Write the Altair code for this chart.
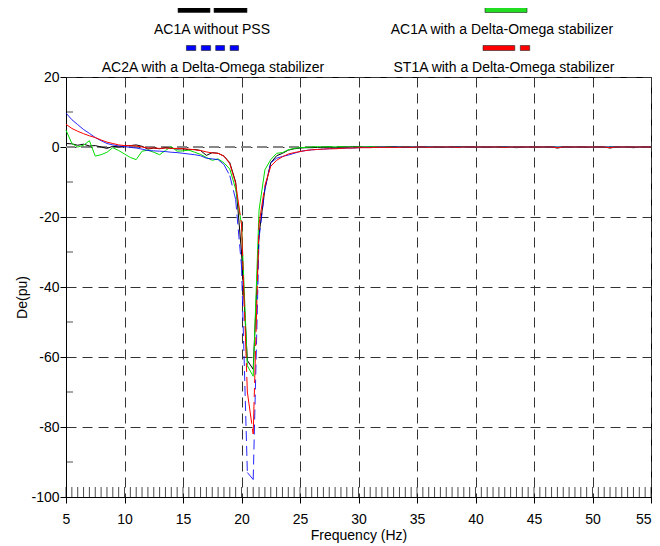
import altair as alt
import pandas as pd

# ---------------- data ----------------
freq = [5.0, 5.5, 6.0, 6.5, 7.0, 7.5, 8.0, 8.5, 9.0, 9.5,
        10.0, 10.5, 11.0, 11.5, 12.0, 12.5, 13.0, 13.5, 14.0, 14.5,
        15.0, 15.5, 16.0, 16.5, 17.0, 17.5, 18.0, 18.5, 19.0, 19.5,
        20.0, 20.5, 21.0, 21.5, 22.0, 22.5, 23.0, 23.5, 24.0, 24.5,
        25.0, 25.5, 26.0, 26.5, 27.0, 27.5, 28.0, 28.5, 29.0, 29.5,
        30.0, 30.5, 31.0, 31.5, 32.0, 32.5, 33.0, 33.5, 34.0, 34.5,
        35.0, 35.5, 36.0, 36.5, 37.0, 37.5, 38.0, 38.5, 39.0, 39.5,
        40.0, 40.5, 41.0, 41.5, 42.0, 42.5, 43.0, 43.5, 44.0, 44.5,
        45.0, 45.5, 46.0, 46.5, 47.0, 47.5, 48.0, 48.5, 49.0, 49.5,
        50.0, 50.5, 51.0, 51.5, 52.0, 52.5, 53.0, 53.5, 54.0, 54.5,
        55.0]

# AC1A without PSS (black)
ac1a_no_pss = [1.0, 0.9, 0.5, 0.8, 0.3, 0.4, 0.0, -0.4, 0.2, 0.0,
               0.3, 0.4, 0.6, 0.2, -0.6, -0.3, -0.5, -0.2, -0.4, -0.6,
               -0.5, -0.8, -0.7, -1.0, -2.4, -1.6, -1.8, -2.6, -4.5, -10.0,
               -30.0, -61.0, -63.5, -25.0, -12.0, -4.5, -2.5, -1.8, -0.9, -0.5,
               -0.3, -0.2, -0.2, -0.1, -0.1, 0.0, -0.1, 0.0, 0.0, 0.1,
               0.0, 0.0, 0.0, -0.1, 0.0, 0.0, 0.1, 0.0, 0.0, -0.1,
               0.0, 0.0, 0.0, 0.0, -0.1, 0.0, 0.0, 0.0, 0.1, 0.0,
               0.0, 0.0, -0.1, 0.0, 0.0, 0.0, 0.0, -0.2, 0.0, 0.0,
               0.0, 0.0, 0.0, 0.0, -0.3, 0.0, 0.0, 0.0, 0.0, -0.1,
               0.0, 0.0, 0.0, -0.3, 0.0, 0.0, 0.0, -0.2, 0.0, 0.0,
               0.0]

# AC1A with a Delta-Omega stabilizer (green)
ac1a_do = [4.8, 1.0, 0.0, 0.5, 1.8, -2.6, -2.2, -1.5, -0.2, -1.0,
           -2.0, -3.0, -3.6, -1.2, -0.9, -1.5, -2.2, -1.0, 0.1, -1.2,
           -1.1, -0.9, -1.5, -2.1, -3.0, -3.8, -3.4, -4.5, -6.3, -12.0,
           -22.0, -62.5, -65.5, -18.0, -6.5, -3.6, -1.8, -1.6, -0.8, -0.4,
           -0.2, -0.1, 0.0, 0.1, 0.0, 0.1, 0.0, 0.1, 0.0, 0.0,
           0.0, 0.0, 0.1, 0.0, 0.0, 0.0, 0.0, 0.0, 0.1, 0.0,
           0.0, 0.0, 0.0, 0.0, 0.0, 0.0, 0.0, 0.0, 0.0, 0.0,
           0.0, 0.0, 0.0, 0.0, 0.0, 0.0, 0.0, 0.0, 0.0, 0.0,
           0.0, 0.0, 0.0, 0.0, 0.0, 0.0, 0.0, 0.0, 0.0, 0.0,
           0.0, 0.0, 0.0, 0.0, 0.0, 0.0, 0.0, 0.0, 0.0, 0.0,
           0.0]

# AC2A with a Delta-Omega stabilizer (blue)
ac2a_do = [9.7, 7.8, 6.4, 5.0, 3.9, 2.7, 1.8, 1.0, 0.6, 0.3,
           0.1, -0.1, -0.3, -0.6, -1.0, -1.1, -1.2, -1.3, -1.5, -1.6,
           -1.8, -2.0, -2.2, -2.5, -3.2, -3.4, -3.6, -5.0, -8.2, -15.0,
           -34.0, -93.0, -95.0, -26.0, -12.0, -4.5, -3.2, -2.7, -2.3, -1.8,
           -1.3, -1.0, -0.8, -0.7, -0.6, -0.5, -0.4, -0.4, -0.3, -0.3,
           -0.2, -0.1, -0.1, -0.1, 0.0, -0.1, 0.0, 0.0, 0.0, 0.0,
           0.0, 0.0, 0.0, 0.0, 0.0, 0.0, 0.0, 0.0, 0.0, 0.0,
           0.0, 0.0, 0.0, 0.0, 0.0, 0.0, 0.0, 0.0, 0.0, 0.0,
           0.0, 0.0, 0.0, 0.0, 0.0, 0.0, 0.0, 0.0, 0.0, 0.0,
           0.0, 0.0, 0.0, 0.0, 0.0, 0.0, 0.0, 0.0, 0.0, 0.0,
           0.0]

# ST1A with a Delta-Omega stabilizer (red)
st1a_do = [6.5, 5.3, 4.5, 3.8, 3.2, 2.7, 2.0, 1.4, 1.0, 0.6,
           0.4, 0.4, 0.3, 0.0, -0.3, -0.3, -0.4, -0.3, -0.4, -0.4,
           -0.5, -0.6, -0.8, -1.0, -1.4, -1.7, -1.8, -2.6, -4.8, -10.4,
           -22.0, -70.0, -82.0, -22.0, -11.0, -5.5, -3.8, -2.8, -2.0, -1.6,
           -1.3, -1.0, -0.8, -0.7, -0.6, -0.5, -0.5, -0.4, -0.3, -0.3,
           -0.2, -0.2, -0.2, -0.1, -0.1, -0.1, -0.1, -0.1, 0.0, -0.1,
           0.0, 0.0, -0.1, 0.0, 0.0, 0.0, 0.0, -0.1, 0.0, 0.0,
           0.0, 0.0, 0.0, 0.0, 0.0, -0.1, 0.0, 0.0, 0.0, 0.0,
           0.0, 0.0, 0.0, 0.0, -0.2, 0.0, 0.0, 0.0, 0.0, 0.0,
           0.0, 0.0, 0.0, -0.2, 0.0, 0.0, 0.0, 0.0, 0.0, 0.0,
           0.0]

x_ticks = [5, 10, 15, 20, 25, 30, 35, 40, 45, 50, 55]
y_ticks = [-100, -80, -60, -40, -20, 0, 20]
y_minor = [-90, -70, -50, -30, -10, 10]

legend_labels = ["AC1A without PSS", "AC1A with a Delta-Omega stabilizer",
                 "AC2A with a Delta-Omega stabilizer", "ST1A with a Delta-Omega stabilizer"]

# ---------------- style ----------------
FONT = "Liberation Sans, Arial, Helvetica, sans-serif"
W, H = 585, 420
BLACK, GREEN, BLUE, RED = "#000000", "#00dd00", "#0000ff", "#ff0000"

x_scale = alt.Scale(domain=[5, 55], nice=False, zero=False)
y_scale = alt.Scale(domain=[-100, 20], nice=False, zero=False)

x_axis = alt.Axis(values=x_ticks, title="Frequency (Hz)", grid=True, gridDash=[10, 6],
                  gridColor="#333333", gridWidth=1, tickSize=6, tickColor="black",
                  domainColor="black", labelPadding=9, labelFont=FONT, labelFontSize=14,
                  labelColor="black", titleFont=FONT, titleFontSize=14,
                  titleFontWeight="normal", titleColor="black", titleY=38,
                  titleBaseline="middle", labelFlush=False, labelOverlap=False,
                  labelAlign={"condition": {"test": "datum.value >= 55", "value": "right"},
                              "value": "center"})
y_axis = alt.Axis(values=y_ticks, title="De(pu)", grid=True, gridDash=[10, 6],
                  gridColor="#333333", gridWidth=1, tickSize=6, tickColor="black",
                  domainColor="black", labelPadding=1, labelFont=FONT, labelFontSize=14,
                  labelColor="black", labelExpr="'' + datum.value", titleFont=FONT,
                  titleFontSize=14, titleFontWeight="normal", titleColor="black",
                  titleAngle=270, titleX=-44, titleY=220, titleAlign="center",
                  titleBaseline="middle", labelFlush=False, labelOverlap=False)

X = alt.X("f:Q", scale=x_scale, axis=x_axis)
Y = alt.Y("v:Q", scale=y_scale, axis=y_axis)


def full_df(vals):
    return pd.DataFrame({"f": freq, "v": vals})


def seg_df(vals):
    rows = []
    for k in range(len(freq) - 1):
        rows.append({"f": freq[k], "v": vals[k], "seg": k})
        rows.append({"f": freq[k + 1], "v": vals[k + 1], "seg": k})
    return pd.DataFrame(rows)


zero_line = alt.Chart(pd.DataFrame({"v": [0]})).mark_rule(
    color="#888888", strokeWidth=2, strokeDash=[10, 6]).encode(y=Y)

rug = alt.Chart(pd.DataFrame({"f": freq})).mark_tick(
    orient="vertical", size=10, thickness=1, color="black").encode(x=X, y=alt.value(H - 5))

minor = alt.Chart(pd.DataFrame({"v": y_minor})).mark_tick(
    orient="horizontal", size=7, thickness=1, color="black").encode(y=Y, x=alt.value(3.5))

line_black = alt.Chart(full_df(ac1a_no_pss)).mark_line(color=BLACK, strokeWidth=1).encode(x=X, y=Y)
line_green = alt.Chart(full_df(ac1a_do)).mark_line(color=GREEN, strokeWidth=1).encode(x=X, y=Y)
line_blue = alt.Chart(seg_df(ac2a_do)).mark_line(
    color=BLUE, strokeWidth=1, strokeDash=[10, 5], opacity=0.85).encode(x=X, y=Y, detail="seg:N")
line_red = alt.Chart(seg_df(st1a_do)).mark_line(
    color=RED, strokeWidth=1, strokeDash=[32, 5, 9, 5]).encode(x=X, y=Y, detail="seg:N")

one = pd.DataFrame({"a": [0]})


def swatch(x1, x2, y1, y2, fill):
    return alt.Chart(one).mark_rect(fill=fill, stroke="#222222", strokeWidth=0.6).encode(
        x=alt.value(x1), x2=alt.value(x2), y=alt.value(y1), y2=alt.value(y2))


def label(text, x, y):
    return alt.Chart(one).mark_text(text=text, font=FONT, fontSize=14, color="black",
                                    align="center", baseline="middle").encode(
        x=alt.value(x), y=alt.value(y))


legend = [
    swatch(112, 144, -69.5, -64.5, BLACK), swatch(148, 181, -69.5, -64.5, BLACK),
    swatch(419, 461, -69.5, -64.5, "#22dd22"),
    swatch(120.4, 129.8, -31.5, -26.5, BLUE), swatch(135.3, 144.6, -31.5, -26.5, BLUE),
    swatch(149.7, 158.6, -31.5, -26.5, BLUE), swatch(164.1, 172.6, -31.5, -26.5, BLUE),
    swatch(417, 448.8, -31.5, -26.5, RED), swatch(454.3, 463.7, -31.5, -26.5, RED),
    label(legend_labels[0], 146, -47), label(legend_labels[1], 436, -47),
    label(legend_labels[2], 147, -9.5), label(legend_labels[3], 438, -9.5),
]

chart = alt.layer(
    zero_line, rug, minor, line_black, line_green, line_blue, line_red, *legend
).properties(
    width=W, height=H,
    autosize=alt.AutoSizeParams(type="none"),
    padding={"left": 58, "top": 69, "right": 1, "bottom": 49},
    background="white",
).configure_view(stroke="black", strokeWidth=1)

chart.save("out.html", embed_options={"renderer": "svg", "actions": False})
